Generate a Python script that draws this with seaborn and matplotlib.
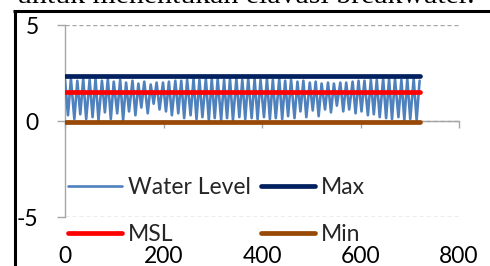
import numpy as np
import pandas as pd
import matplotlib
matplotlib.use("Agg")
import matplotlib.pyplot as plt
from matplotlib.lines import Line2D
import seaborn as sns

# ---- data ----
high_hours = [0, 12, 25, 37, 50, 62, 75, 87, 99, 112, 124, 137, 149, 161, 174, 186, 199, 211, 224, 236,
              248, 261, 273, 286, 298, 310, 323, 335, 348, 360, 372, 385, 397, 410, 422, 435, 447, 459,
              472, 484, 497, 509, 521, 534, 546, 559, 571, 584, 596, 608, 621, 633, 646, 658, 670, 683,
              695, 708, 720]
high_levels = [2.15, 2.2, 2.1, 2.2, 2.15, 2.2, 2.1, 2.2, 2.05, 2.15, 2.0,
               2.1, 1.95, 2.05, 1.9, 2.0, 2.0, 2.05, 2.1, 2.1, 2.15,
               2.2, 2.15, 2.2, 2.2, 2.2, 2.15, 2.2, 2.2, 2.15, 2.2,
               2.2, 2.15, 2.2, 2.15, 2.2, 2.1, 2.15, 2.05, 2.1, 2.0,
               2.05, 1.95, 2.0, 1.95, 2.0, 2.0, 2.05, 2.1, 2.1, 2.15,
               2.15, 2.2, 2.2, 2.2, 2.15, 2.2, 2.2, 2.1]
low_hours = [6, 19, 31, 43, 56, 68, 81, 93, 106, 118, 130, 143, 155, 168, 180, 192, 205, 217, 230, 242,
             255, 267, 279, 292, 304, 317, 329, 341, 354, 366, 379, 391, 404, 416, 428, 441, 453, 466,
             478, 490, 503, 515, 528, 540, 552, 565, 577, 590, 602, 615, 627, 639, 652, 664, 677, 689,
             701, 714]
low_levels = [0.3, 0.1, 0.35, 0.1, 0.2, 0.05, 0.45, 0.1, 0.4, 0.05, 0.5,
              0.3, 0.7, 0.4, 0.9, 0.6,
              0.5, 0.3, 0.4, 0.15, 0.3,
              0.1, 0.2, 0.05, 0.15, 0.05, 0.15, 0.05, 0.2, 0.1,
              0.15, 0.1, 0.2, 0.1, 0.15, 0.1, 0.25, 0.15,
              0.5, 0.2, 0.55, 0.25, 0.6, 0.45, 0.8,
              0.5, 0.6, 0.4, 0.5, 0.3,
              0.35, 0.2, 0.15, 0.1, 0.2, 0.05, 0.1, 0.05]
level_hours = [0, 720]
max_level = [2.35, 2.35]
msl_level = [1.5, 1.5]
min_level = [-0.05, -0.05]
x_ticks = [0, 200, 400, 600, 800]
y_ticks = [-5, 0, 5]

water = pd.DataFrame({"hour": high_hours + low_hours,
                      "level": high_levels + low_levels}).sort_values("hour")
const = pd.DataFrame({"hour": level_hours * 3,
                      "level": max_level + msl_level + min_level,
                      "series": ["Max"] * 2 + ["MSL"] * 2 + ["Min"] * 2})

# ---- style ----
sns.set_style("white")
plt.rcParams["font.family"] = ["Lato", "DejaVu Sans"]
plt.rcParams["axes.unicode_minus"] = False
FS = 16.5
GRAY = "#a6a6a6"

fig = plt.figure(figsize=(4.9, 2.66), dpi=100)
ax = fig.add_axes([65 / 490, 1 - 217 / 266, (459 - 65) / 490, (217 - 25) / 266])

sns.lineplot(data=water, x="hour", y="level", ax=ax, color="#4F81BD", lw=1.9,
             estimator=None, sort=True, label="Water Level", zorder=3)
colors = {"Max": "#002060", "MSL": "#FF0000", "Min": "#984807"}
for name in ["Max", "MSL", "Min"]:
    sub = const[const["series"] == name]
    sns.lineplot(data=sub, x="hour", y="level", ax=ax, color=colors[name], lw=3.4,
                 estimator=None, label=name, zorder=4, solid_capstyle="round")

ax.set_xlim(0, 800)
ax.set_ylim(-5, 5)
ax.set_xticks(x_ticks)
ax.set_yticks(y_ticks)
ax.set_xlabel("")
ax.set_ylabel("")

for s in ["top", "right"]:
    ax.spines[s].set_visible(False)
ax.spines["left"].set_color(GRAY)
ax.spines["left"].set_linewidth(1)
ax.spines["bottom"].set_position(("data", 0))
ax.spines["bottom"].set_color(GRAY)
ax.spines["bottom"].set_linewidth(1)

ax.tick_params(axis="x", bottom=True, direction="out", length=5, width=1, color=GRAY,
               pad=85, labelsize=FS, labelcolor="black")
ax.tick_params(axis="y", left=True, direction="out", length=6, width=1, color=GRAY,
               pad=13, labelsize=FS, labelcolor="black")

ax.yaxis.grid(True, color=GRAY, linestyle=(0, (3, 2)), lw=1)
ax.xaxis.grid(False)

handles, labels = ax.get_legend_handles_labels()
order = [labels.index(n) for n in ["Water Level", "MSL", "Max", "Min"]]
leg = ax.legend([handles[i] for i in order], [labels[i] for i in order], ncol=2,
                frameon=False, loc="upper left",
                bbox_to_anchor=(68 / 490, 1 - 177 / 266), bbox_transform=fig.transFigure,
                borderpad=0, borderaxespad=0, handlelength=2.36, handletextpad=0.26,
                columnspacing=0.45, labelspacing=1.15, fontsize=FS)

# page border and cut-off text line of the document
fig.add_artist(Line2D([14.5 / 490, 14.5 / 490], [0, 1 - 10 / 266], transform=fig.transFigure,
                      color="black", lw=2.2, solid_capstyle="butt"))
fig.add_artist(Line2D([13 / 490, 1], [1 - 11 / 266, 1 - 11 / 266], transform=fig.transFigure,
                      color="black", lw=2.2, solid_capstyle="butt"))
fig.text(17 / 490, 1 - 3 / 266, "untuk menentukan elavasi breakwater.", family="Liberation Serif",
         fontsize=21.5, va="baseline", ha="left", color="black")

fig.savefig("out.png", dpi=100)
